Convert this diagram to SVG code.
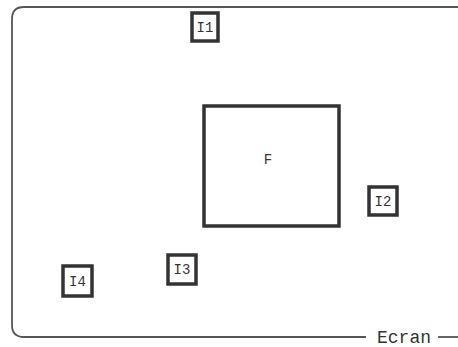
<svg xmlns="http://www.w3.org/2000/svg" width="458" height="347" viewBox="0 0 458 347">
<style>
.frame{fill:none;stroke:#555;stroke-width:1.8}
.box{fill:#fff;stroke:#333;stroke-width:3.5}
.bigbox{fill:#fff;stroke:#333;stroke-width:3.5}
.lbl{font-family:"Liberation Mono","DejaVu Sans Mono",monospace;font-size:14px;fill:#333;text-anchor:middle}
.cap{font-family:"Liberation Mono","DejaVu Sans Mono",monospace;font-size:18px;fill:#333}
</style>
<rect width="458" height="347" fill="#fff"/>
<g id="ecran">
<path class="frame" d="M462,7 L24,7 Q12,7 12,19 L12,325 Q12,337 24,337 L366,337"/>
<path class="frame" d="M438,337 L462,337"/>
<text class="cap" x="377" y="343">Ecran</text>
</g>
<g id="F">
<rect class="bigbox" x="204" y="106" width="135" height="120"/>
<text class="lbl" x="268" y="164">F</text>
</g>
<g id="I1">
<rect class="box" x="192" y="13" width="26" height="28"/>
<text class="lbl" x="205" y="32">I1</text>
</g>
<g id="I2">
<rect class="box" x="369" y="187" width="28" height="28"/>
<text class="lbl" x="383" y="206">I2</text>
</g>
<g id="I3">
<rect class="box" x="168" y="255" width="28" height="29"/>
<text class="lbl" x="182" y="274">I3</text>
</g>
<g id="I4">
<rect class="box" x="63" y="266" width="29" height="30"/>
<text class="lbl" x="77.5" y="286">I4</text>
</g>
<g id="connectors"></g>
</svg>
